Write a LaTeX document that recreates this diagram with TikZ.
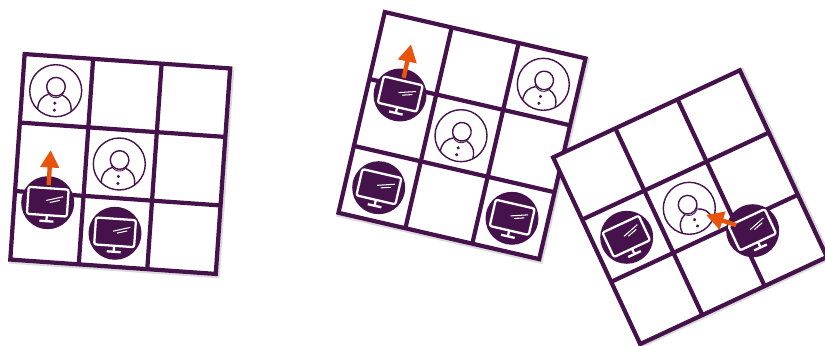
\documentclass[tikz,border=0pt]{standalone}
\usepackage{tikz}
\usetikzlibrary{arrows.meta}
\definecolor{plum}{HTML}{45124C}
\definecolor{signal}{HTML}{E9540D}

\tikzset{
  gridline/.style={draw=plum, line width=2.4pt, line join=miter},
  gridshade/.style={draw=black!14, line width=3pt},
  moveto/.style={-{Triangle[width=0.36cm,length=0.35cm]}, signal, line width=2.5pt, shorten <=10pt},
  userdisc/.style={circle, draw=plum, fill=white, line width=0.8pt, minimum size=1.04cm, inner sep=0pt},
  screendisc/.style={circle, fill=plum, minimum size=1.06cm, inner sep=0pt},
  board/.pic={
    \begin{scope}[shift={(1.5,-1.5)}]
      \draw[gridshade] (-103,-103) rectangle (103,103);
    \end{scope}
    \draw[gridline, fill=white] (-103,-103) rectangle (103,103);
    \foreach \i in {-34.33,34.33} {
      \draw[gridline] (\i,-103) -- (\i,103);
      \draw[gridline] (-103,\i) -- (103,\i);
    }
  },
  person/.pic={
    \draw[plum, line width=0.8pt] (0,4) circle (9.3);
    \draw[plum, line width=0.5pt] (-8,-1.5) arc (200:340:8.5);
    \draw[plum, line width=0.8pt] (-16.7,-19.9) .. controls (-17,-10) and (-12,-6) .. (-7,-4)
      (16.7,-19.9) .. controls (17,-10) and (12,-6) .. (7,-4);
    \fill[plum] (0,-12.5) circle (1.7) (0,-19.5) circle (1.7);
  },
  monitor/.pic={
    \draw[white, line width=1.3pt, rounded corners=1.2pt] (-20,-12.5) rectangle (20,14.5);
    \draw[white, line width=1.3pt] (0,-12.5) -- (0,-18.5) (-7,-18.5) -- (7,-18.5);
    \draw[white, line width=0.6pt] (-2,2) -- (15,7) (2,0.3) -- (12,3.2);
  }
}

\begin{document}
\begin{tikzpicture}[x=0.02cm, y=0.02cm]
  \useasboundingbox (0,0) rectangle (825,345);

  % left board
  \pic[rotate=-4] at (120.2,181) {board};
  \node[userdisc] (user1) at (55.7,254.3) {};
  \node[userdisc] (user2) at (119.3,181) {};
  \node[screendisc] (screen1) at (47.7,142.3) {};
  \node[screendisc] (screen2) at (115,111.7) {};
  \pic[rotate=-4] at (user1) {person};
  \pic[rotate=-4] at (user2) {person};
  \pic[rotate=-4] at (screen1) {monitor};
  \pic[rotate=-4] at (screen2) {monitor};
  \coordinate (tip1) at (50.7,195);
  \draw[moveto] (screen1.center) -- (tip1);

  % middle board
  \pic[rotate=-13] at (462,209.4) {board};
  \node[userdisc] (user3) at (543.3,260.7) {};
  \node[userdisc] (user4) at (461,209.3) {};
  \node[screendisc] (screen3) at (400,250) {};
  \node[screendisc] (screen4) at (378.7,157.3) {};
  \node[screendisc] (screen5) at (512,126.7) {};
  \pic[rotate=-13] at (user3) {person};
  \pic[rotate=-13] at (user4) {person};
  \pic[rotate=-13] at (screen3) {monitor};
  \pic[rotate=-13] at (screen4) {monitor};
  \pic[rotate=-13] at (screen5) {monitor};
  \coordinate (tip2) at (411,300.7);
  \draw[moveto] (screen3.center) -- (tip2);

  % right board
  \pic[rotate=25] at (690,137.8) {board};
  \node[userdisc] (user5) at (689.3,136.7) {};
  \node[screendisc] (screen6) at (626.7,107.7) {};
  \node[screendisc] (screen7) at (752.7,114.3) {};
  \pic[rotate=25] at (user5) {person};
  \pic[rotate=25] at (screen6) {monitor};
  \pic[rotate=25] at (screen7) {monitor};
  \coordinate (tip3) at (706,130);
  \draw[moveto] (screen7.center) -- (tip3);
\end{tikzpicture}
\end{document}
